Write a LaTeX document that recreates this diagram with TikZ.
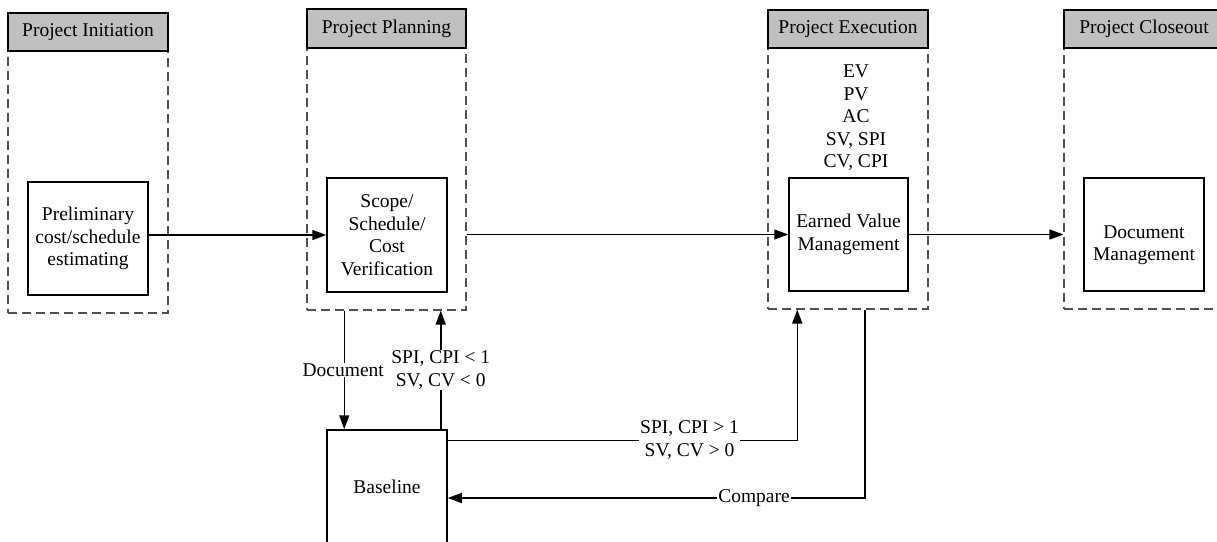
\documentclass[tikz,border=0pt]{standalone}
\usepackage{fontspec}
\setmainfont{Liberation Serif}
\usetikzlibrary{arrows.meta}
\definecolor{hdrgray}{HTML}{C0C0C0}
\definecolor{dashgray}{HTML}{505050}
\begin{document}
\begin{tikzpicture}[x=1pt,y=-1pt,
  font=\fontsize{19.5}{22.5}\selectfont,
  lane/.style={draw=dashgray, dash pattern=on 9pt off 5pt, line width=1.1pt, inner sep=0pt, minimum width=160, minimum height=262},
  hdr/.style={draw=black, fill=hdrgray, line width=1.2pt, inner sep=0pt, minimum width=160, minimum height=38},
  procbox/.style={draw=black, line width=1.5pt, inner sep=2pt, minimum width=120, minimum height=113, align=center},
  conn/.style={line width=1.5pt},
  arr/.style={conn, -{Triangle[length=14pt,width=10pt]}},
  lbl/.style={fill=white, inner sep=1pt, align=center}]
\clip (0,0) rectangle (1217,541);
\useasboundingbox (0,0) rectangle (1217,541);

% lanes
\node[lane] (lane1) at (88,182) {};
\node[hdr] (hdr1) at (88,32) {Project Initiation};
\node[lane, minimum width=159] (lane2) at (386.5,179) {};
\node[hdr, minimum width=159, minimum height=39] (hdr2) at (386.5,28.5) {Project Planning};
\node[lane, minimum height=261] (lane3) at (848,178.5) {};
\node[hdr] (hdr3) at (848,29) {Project Execution};
\node[lane, minimum height=261] (lane4) at (1144,178.5) {};
\node[hdr] (hdr4) at (1144,29) {Project Closeout};

% boxes
\node[procbox] (prelim) at (88,238.5) {Preliminary\\cost/schedule\\estimating};
\node[procbox, minimum height=114] (scope) at (387,235) {Scope/\\Schedule/\\Cost\\Verification};
\node[procbox, minimum width=119] (evm) at (848.5,234.5) {Earned Value\\Management};
\node[procbox] (docm) at (1144,234.5) {};
\node[align=center, inner sep=0pt] (docmtext) at (1144,245) {Document\\Management};
\node[align=center, inner sep=0pt] (evlist) at (856,118) {EV\\PV\\AC\\SV, SPI\\CV, CPI};
\node[draw=black, line width=1.5pt, minimum width=120, minimum height=136, inner sep=0pt] (baseline) at (387,498) {};
\node[inner sep=0pt] (bltext) at (387,487) {Baseline};

% connectors
\draw[arr] (prelim.east |- scope.west) -- (scope.west);
\draw[arr] (lane2.east |- evm.west) -- (evm.west);
\draw[arr] (evm.east) -- (evm.east -| lane4.west);

\draw[arr] ([xshift=18pt]baseline.north west |- lane2.south) -- ([xshift=18pt]baseline.north west);
\draw[arr] ([xshift=-7pt]baseline.north east) -- ([xshift=-7pt]baseline.north east |- lane2.south);
\node[lbl] (lblless) at ([xshift=-7pt]baseline.north east |- 0,370) {SPI, CPI < 1\\SV, CV < 0};
\node[lbl] (lbldoc) at ([xshift=17pt]baseline.north west |- 0,370) {Document};

\draw[arr] ([yshift=-11pt]baseline.north east) -| ([xshift=9pt]evm.south west |- lane3.south)
  node[lbl, pos=0.346] (lblgreater) {SPI, CPI > 1\\SV, CV > 0};
\draw[arr] ([xshift=17pt]lane3.south) |- (baseline.east)
  node[lbl, pos=0.633] (lblcmp) {Compare};
\end{tikzpicture}
\end{document}
